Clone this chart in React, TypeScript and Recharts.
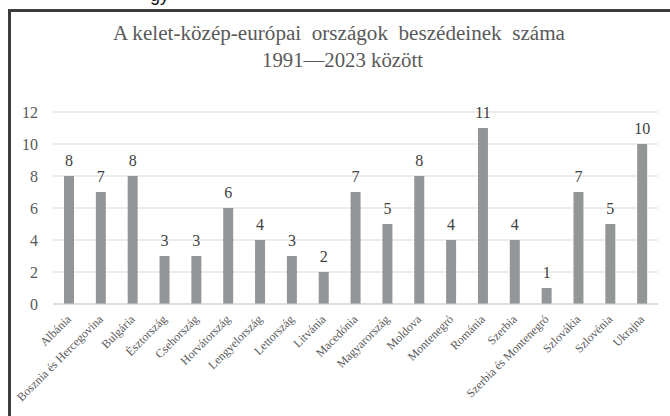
import React from "react";
import { BarChart, Bar, XAxis, YAxis, CartesianGrid, LabelList } from "recharts";

const countries = [
  "Albánia",
  "Bosznia és Hercegovina",
  "Bulgária",
  "Észtország",
  "Csehország",
  "Horvátország",
  "Lengyelország",
  "Lettország",
  "Litvánia",
  "Macedónia",
  "Magyarország",
  "Moldova",
  "Montenegró",
  "Románia",
  "Szerbia",
  "Szerbia és Montenegró",
  "Szlovákia",
  "Szlovénia",
  "Ukrajna",
];
const speeches = [8, 7, 8, 3, 3, 6, 4, 3, 2, 7, 5, 8, 4, 11, 4, 1, 7, 5, 10];
const yTicks = [0, 2, 4, 6, 8, 10, 12];
const titleLine1 = "A kelet-közép-európai  országok  beszédeinek  száma";
const titleLine2 = "1991—2023 között";

const data = countries.map((name, i) => ({ name, value: speeches[i] }));

const FONT = '"Liberation Serif", "Times New Roman", serif';

const XTick = (props: any) => {
  const { x, y, payload } = props;
  return (
    <g transform={`translate(${x - 3},${y + 10})`}>
      <text
        x={0}
        y={0}
        dy="0.7em"
        textAnchor="end"
        transform="rotate(-45)"
        fill="#595959"
        fontSize={12}
        fontFamily={FONT}
        style={{ fontFamily: FONT }}
      >
        {payload.value}
      </text>
    </g>
  );
};

const YTick = (props: any) => {
  const { x, y, payload } = props;
  return (
    <text
      x={x}
      y={y}
      dy="0.35em"
      textAnchor="end"
      fill="#595959"
      fontSize={16}
      fontFamily={FONT}
      style={{ fontFamily: FONT }}
    >
      {payload.value}
    </text>
  );
};

const ValueLabel = (props: any) => {
  const { x, y, width, value } = props;
  return (
    <text
      x={x + width / 2}
      y={y - 10}
      textAnchor="middle"
      fill="#404040"
      fontSize={16}
      fontFamily={FONT}
      style={{ fontFamily: FONT }}
    >
      {value}
    </text>
  );
};

export default function App() {
  return (
    <div
      style={{
        position: "fixed",
        left: 0,
        top: 0,
        width: 670,
        height: 416,
        overflow: "hidden",
        background: "#ffffff",
      }}
    >
      <div
        style={{
          position: "absolute",
          left: 150,
          top: -14,
          fontFamily: '"Liberation Sans", Arial, sans-serif',
          fontSize: 18,
          lineHeight: "18px",
          color: "#111",
        }}
      >
        gy
      </div>
      <div
        style={{
          position: "absolute",
          left: 8,
          top: 9,
          width: 720,
          height: 520,
          border: "3px solid #3d3d3d",
          boxSizing: "border-box",
        }}
      />
      <svg
        width={670}
        height={416}
        style={{ position: "absolute", left: 0, top: 0 }}
      >
        <text
          x={339}
          y={40}
          textAnchor="middle"
          fontSize={20}
          fill="#595959"
          fontFamily={FONT}
          textLength={452}
          lengthAdjust="spacingAndGlyphs"
          style={{ whiteSpace: "pre", fontFamily: FONT }}
        >
          {titleLine1}
        </text>
        <text
          x={342.5}
          y={67}
          textAnchor="middle"
          fontSize={20}
          fill="#595959"
          fontFamily={FONT}
          textLength={161}
          lengthAdjust="spacingAndGlyphs"
          style={{ fontFamily: FONT }}
        >
          {titleLine2}
        </text>
      </svg>
      <div style={{ position: "absolute", left: 0, top: 0 }}>
        <BarChart
          width={670}
          height={416}
          data={data}
          margin={{ top: 112, right: 12, bottom: 12, left: 13 }}
        >
          <CartesianGrid vertical={false} stroke="#d9d9d9" strokeWidth={1} />
          <XAxis
            dataKey="name"
            interval={0}
            tickLine={false}
            tickSize={0}
            tickMargin={0}
            axisLine={{ stroke: "#d0d0d0" }}
            height={100}
            tick={<XTick />}
          />
          <YAxis
            width={40}
            domain={[0, 12]}
            ticks={yTicks}
            axisLine={false}
            tickLine={false}
            tickSize={0}
            tickMargin={15}
            tick={<YTick />}
          />
          <Bar
            dataKey="value"
            fill="#939697"
            barSize={10}
            isAnimationActive={false}
          >
            <LabelList dataKey="value" content={<ValueLabel />} />
          </Bar>
        </BarChart>
      </div>
    </div>
  );
}
